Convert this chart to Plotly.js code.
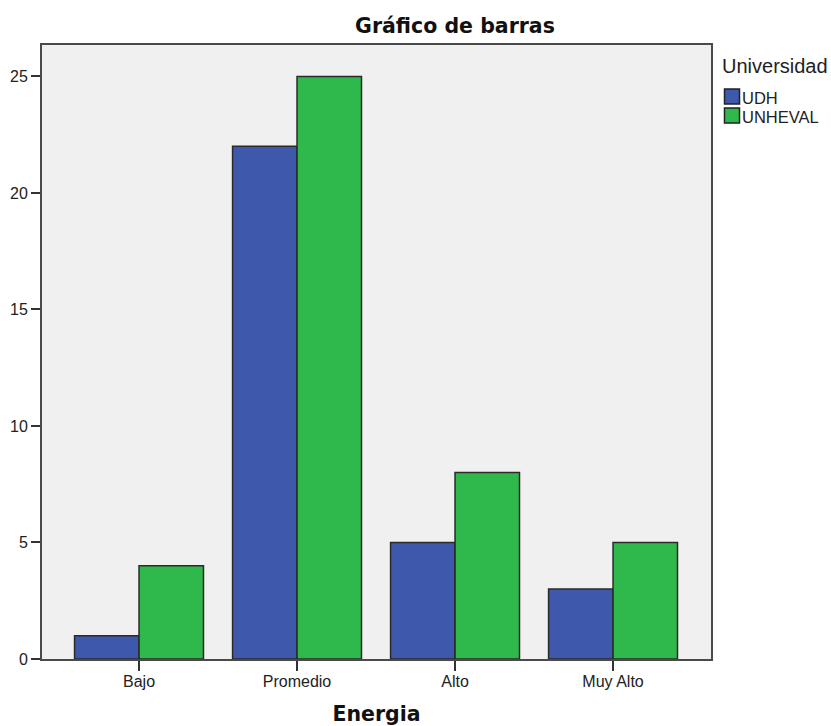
<!DOCTYPE html>
<html>
<head>
<meta charset="utf-8">
<script src="https://cdn.plot.ly/plotly-3.0.1.min.js"></script>
<style>html,body{margin:0;padding:0;background:#fff;}#chart{width:831px;height:726px;}</style>
</head>
<body>
<div id="chart"></div>
<script>
var categories = ["Bajo", "Promedio", "Alto", "Muy Alto"];
var udhValues = [1, 22, 5, 3];
var unhevalValues = [4, 25, 8, 5];
var seriesNames = ["UDH", "UNHEVAL"];
var seriesColors = ["#3e58ac", "#2fb84b"];
var legendTitle = "Universidad";
var yTicks = [0, 5, 10, 15, 20, 25];

var font = "Liberation Sans, Arial, sans-serif";
var boldFont = "DejaVu Sans, sans-serif";
var W = 831, H = 726;
var M = {l: 42, r: 120, t: 45, b: 67};
var PW = W - M.l - M.r, PH = H - M.t - M.b;
function px(x) { return (x - M.l) / PW; }
function py(y) { return (H - M.b - y) / PH; }

var seriesValues = [udhValues, unhevalValues];
var traces = seriesNames.map(function (n, i) {
  return {type: "bar", name: n, x: categories, y: seriesValues[i], showlegend: false,
          marker: {color: seriesColors[i], line: {color: "#2a2a2a", width: 1.5}}};
});

// custom legend (layout elements, built from series names/colours)
var shapes = [], annotations = [];
annotations.push({xref: "paper", yref: "paper", x: px(721), y: py(65.5), xanchor: "left", yanchor: "middle",
  text: legendTitle, showarrow: false, borderpad: 0, font: {family: font, size: 20, color: "#222"}});
seriesNames.forEach(function (n, i) {
  var cy = 96.5 + i * 19;
  shapes.push({type: "rect", xref: "paper", yref: "paper", x0: px(724.5), x1: px(739.5),
    y0: py(cy + 7.5), y1: py(cy - 7.5), fillcolor: seriesColors[i], line: {color: "#222", width: 1.5}, layer: "above"});
  annotations.push({xref: "paper", yref: "paper", x: px(741), y: py(cy + 1), xanchor: "left", yanchor: "middle",
    text: n, showarrow: false, borderpad: 0, font: {family: font, size: 16.5, color: "#222"}});
});

var layout = {
  width: W, height: H,
  margin: M,
  paper_bgcolor: "#ffffff", plot_bgcolor: "#f0f0f0",
  barmode: "group", bargap: 0.184, bargroupgap: 0,
  font: {family: font, size: 16, color: "#222"},
  showlegend: false,
  title: {text: "<b>Gráfico de barras</b>", font: {family: boldFont, size: 20.5, color: "#111"},
          x: 455 / W, xanchor: "center", xref: "container", y: 1 - 25.5 / H, yanchor: "middle", yref: "container"},
  xaxis: {type: "category", range: [-0.614, 3.62], showgrid: false, zeroline: false,
          showline: true, linecolor: "#4a4a4a", linewidth: 2, mirror: true,
          ticks: "outside", ticklen: 10, tickcolor: "#333", tickwidth: 2, ticklabelstandoff: -3,
          tickfont: {family: font, size: 16, color: "#222"},
          title: {text: "<b>Energia</b>", font: {family: boldFont, size: 20.5, color: "#111"}, standoff: 17}},
  yaxis: {range: [0, 26.35], tickvals: yTicks, showgrid: false, zeroline: false,
          showline: true, linecolor: "#4a4a4a", linewidth: 2, mirror: true,
          ticks: "outside", ticklen: 9, tickcolor: "#333", tickwidth: 2,
          tickfont: {family: font, size: 16, color: "#222"}},
  shapes: shapes,
  annotations: annotations
};
Plotly.newPlot("chart", traces, layout, {displayModeBar: false, staticPlot: true});
</script>
</body>
</html>
